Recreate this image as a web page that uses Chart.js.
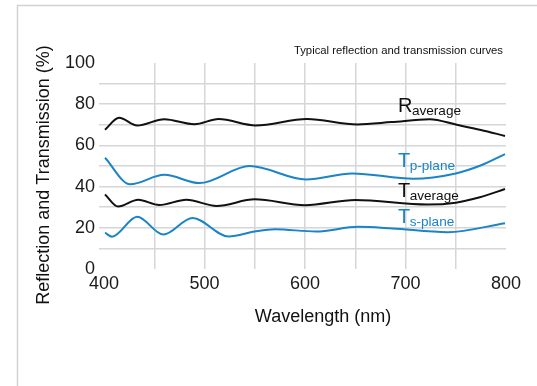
<!DOCTYPE html>
<html>
<head>
<meta charset="utf-8">
<script src="https://cdn.jsdelivr.net/npm/chart.js@4"></script>
<style>
  html, body { margin: 0; padding: 0; background: #ffffff; }
  #wrap { position: relative; width: 537px; height: 386px; }
</style>
</head>
<body>
<div id="wrap"><canvas id="chart" width="537" height="386"></canvas></div>
<script>
// Axis tick labels
const wavelengthTicks = [400, 500, 600, 700, 800];
const percentTicks = [0, 20, 40, 60, 80, 100];

// Series: wavelength (nm) and value (%)
const rAverageNm  = [401, 415, 433, 460, 490, 514, 551, 602, 652, 686, 724, 751, 775, 799];
const rAveragePct = [67.6, 73.4, 69.6, 72.7, 70.3, 72.8, 69.7, 72.8, 70.2, 71.3, 72.7, 70.0, 67.5, 64.6];

const tpPlaneNm  = [401, 426, 460, 495, 545, 601, 647, 708, 750, 774, 799];
const tpPlanePct = [54.0, 41.1, 45.7, 41.7, 50.0, 43.5, 46.4, 43.8, 46.4, 50.1, 55.8];

const tAverageNm  = [401, 414, 434, 455, 482, 512, 550, 600, 650, 722, 750, 774, 799];
const tAveragePct = [36.2, 30.3, 33.6, 31.1, 33.6, 30.6, 33.8, 31.0, 33.5, 31.3, 32.2, 34.8, 38.8];

const tsPlaneNm  = [401, 408, 433, 459, 488, 524, 550, 570, 611, 653, 687, 742, 799];
const tsPlanePct = [17.6, 15.7, 25.4, 16.7, 24.8, 15.8, 18.2, 19.3, 18.2, 20.5, 19.7, 17.9, 22.2];

const FONT = "'Liberation Sans', Arial, Helvetica, sans-serif";
const BLACK = '#111111';
const BLUE = '#1b84c6';
const GRID = '#d6d6d6';

function points(xs, ys) {
  return xs.map((x, i) => ({ x: x, y: ys[i] }));
}

function series(label, xs, ys, color) {
  return {
    label: label,
    data: points(xs, ys),
    borderColor: color,
    backgroundColor: color,
    borderWidth: 2,
    pointRadius: 0,
    cubicInterpolationMode: 'monotone',
    fill: false
  };
}

// In-plot curve names: a large letter followed by a subscript
const curveNames = [
  { main: 'R', sub: 'average', color: BLACK, nm: 692.5, pct: 76.0 },
  { main: 'T', sub: 'p-plane', color: BLUE,  nm: 692.5, pct: 49.3 },
  { main: 'T', sub: 'average', color: BLACK, nm: 692.5, pct: 35.1 },
  { main: 'T', sub: 's-plane', color: BLUE,  nm: 692.5, pct: 22.5 }
];

const decorations = {
  id: 'decorations',
  beforeDraw(chart) {
    const ctx = chart.ctx;
    ctx.save();
    ctx.strokeStyle = '#d2d2d2';
    ctx.lineWidth = 1.5;
    ctx.beginPath();
    ctx.moveTo(17.5, 400);
    ctx.lineTo(17.5, 5.5);
    ctx.lineTo(545, 5.5);
    ctx.stroke();
    ctx.restore();
  },
  afterDraw(chart) {
    const ctx = chart.ctx;
    const xs = chart.scales.x;
    const ys = chart.scales.y;
    ctx.save();
    ctx.fillStyle = '#111111';
    ctx.textBaseline = 'middle';

    // Header
    ctx.font = '11.3px ' + FONT;
    ctx.textAlign = 'right';
    ctx.fillText('Typical reflection and transmission curves', 503, 51);

    // Axis titles
    ctx.font = '18px ' + FONT;
    ctx.textAlign = 'center';
    ctx.fillText('Wavelength (nm)', 323, 317);
    ctx.save();
    ctx.translate(44, 175);
    ctx.rotate(-Math.PI / 2);
    ctx.fillText('Reflection and Transmission (%)', 0, 0);
    ctx.restore();

    // Curve names
    ctx.textAlign = 'left';
    ctx.textBaseline = 'alphabetic';
    curveNames.forEach(n => {
      const x = xs.getPixelForValue(n.nm);
      const y = ys.getPixelForValue(n.pct);
      ctx.fillStyle = n.color;
      ctx.font = '20px ' + FONT;
      ctx.fillText(n.main, x, y);
      const w = ctx.measureText(n.main).width;
      ctx.font = '13.6px ' + FONT;
      ctx.fillText(n.sub, x + w - 0.5, y + 3);
    });
    ctx.restore();
  }
};

new Chart(document.getElementById('chart'), {
  type: 'line',
  data: {
    datasets: [
      series('R average', rAverageNm, rAveragePct, BLACK),
      series('T p-plane', tpPlaneNm, tpPlanePct, BLUE),
      series('T average', tAverageNm, tAveragePct, BLACK),
      series('T s-plane', tsPlaneNm, tsPlanePct, BLUE)
    ]
  },
  options: {
    responsive: false,
    devicePixelRatio: 1,
    animation: false,
    layout: { padding: { left: 0, right: 31, top: 63, bottom: 0 } },
    plugins: {
      legend: { display: false },
      title: { display: false },
      tooltip: { enabled: false }
    },
    scales: {
      x: {
        type: 'linear',
        min: 400,
        max: 800,
        afterFit(scale) { scale.height = 117; },
        border: { display: false },
        grid: {
          color: c => (c.tick && (c.tick.value === 400 || c.tick.value === 800)) ? 'rgba(0,0,0,0)' : GRID,
          lineWidth: 1.5,
          drawTicks: false
        },
        ticks: {
          stepSize: 50,
          padding: 4,
          color: '#1a1a1a',
          font: { family: FONT, size: 18 },
          maxRotation: 0,
          autoSkip: false,
          callback: v => wavelengthTicks.includes(v) ? String(v) : ''
        }
      },
      y: {
        min: 0,
        max: 100,
        afterFit(scale) { scale.width = 104; },
        border: { display: false },
        grid: {
          color: c => (c.tick && (c.tick.value === 0 || c.tick.value === 100)) ? 'rgba(0,0,0,0)' : GRID,
          lineWidth: 1.5,
          drawTicks: true,
          tickLength: 5
        },
        ticks: {
          stepSize: 10,
          padding: 4,
          color: '#1a1a1a',
          font: { family: FONT, size: 18 },
          autoSkip: false,
          callback: v => percentTicks.includes(v) ? String(v) : ''
        }
      }
    }
  },
  plugins: [decorations]
});
</script>
</body>
</html>
